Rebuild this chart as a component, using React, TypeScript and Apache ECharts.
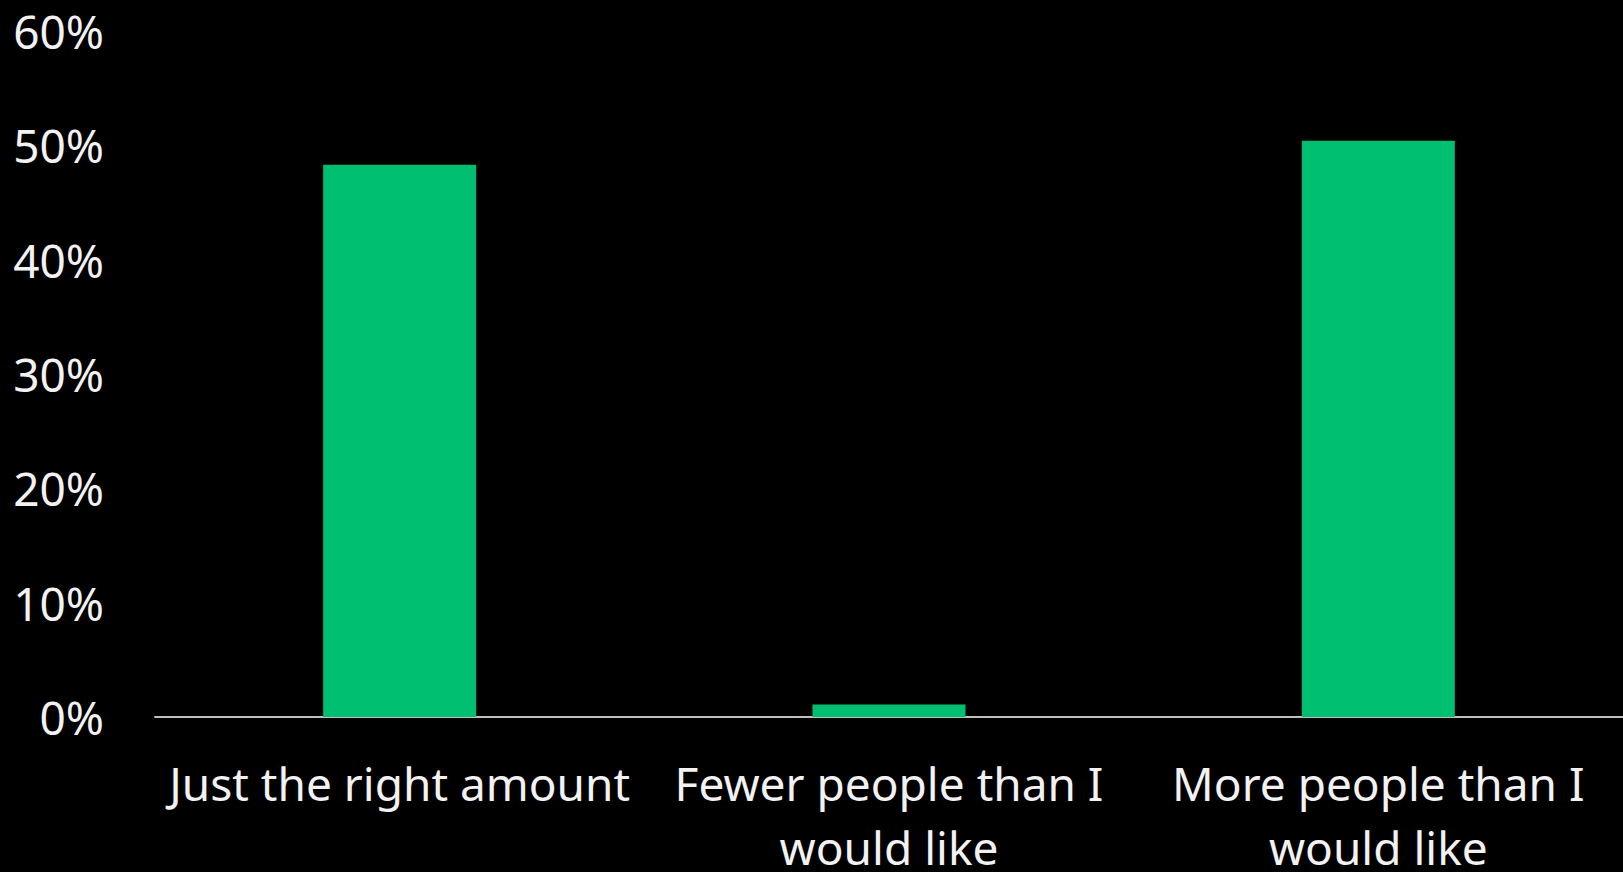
import React, { useEffect, useRef } from "react";
import * as echarts from "echarts";

const categories = [
  "Just the right amount",
  "Fewer people than I\nwould like",
  "More people than I\nwould like",
];
const values = [48.3, 1.1, 50.4];
const yTicks = [0, 10, 20, 30, 40, 50, 60];

const FONT = "'Noto Sans', sans-serif";

export default function App() {
  const ref = useRef<HTMLDivElement>(null);
  useEffect(() => {
    document.body.style.margin = "0";
    document.body.style.background = "#000";
    const chart = echarts.init(ref.current!, null, { renderer: "svg" });
    chart.setOption({
      animation: false,
      backgroundColor: "#000000",
      grid: {
        left: 155,
        right: 0,
        top: 31,
        bottom: 155,
        containLabel: false,
        outerBoundsMode: "none",
      },
      xAxis: {
        type: "category",
        data: categories,
        axisLine: { show: true, lineStyle: { color: "#bfbfbf", width: 2 } },
        axisTick: { show: false },
        axisLabel: {
          color: "#f2f2f2",
          fontFamily: FONT,
          fontSize: 46,
          lineHeight: 64,
          margin: 34,
          interval: 0,
        },
      },
      yAxis: {
        type: "value",
        min: yTicks[0],
        max: yTicks[yTicks.length - 1],
        interval: 10,
        splitLine: { show: false },
        axisLine: { show: false },
        axisTick: { show: false },
        axisLabel: {
          color: "#f2f2f2",
          fontFamily: FONT,
          fontSize: 46,
          margin: 51,
          formatter: (v: number) => `${v}%`,
        },
      },
      series: [
        {
          type: "bar",
          data: values,
          barWidth: 153,
          itemStyle: { color: "#00bf71" },
        },
      ],
    });
    return () => chart.dispose();
  }, []);
  return (
    <div
      ref={ref}
      style={{ position: "absolute", left: 0, top: 0, width: 1623, height: 872, background: "#000" }}
    />
  );
}
